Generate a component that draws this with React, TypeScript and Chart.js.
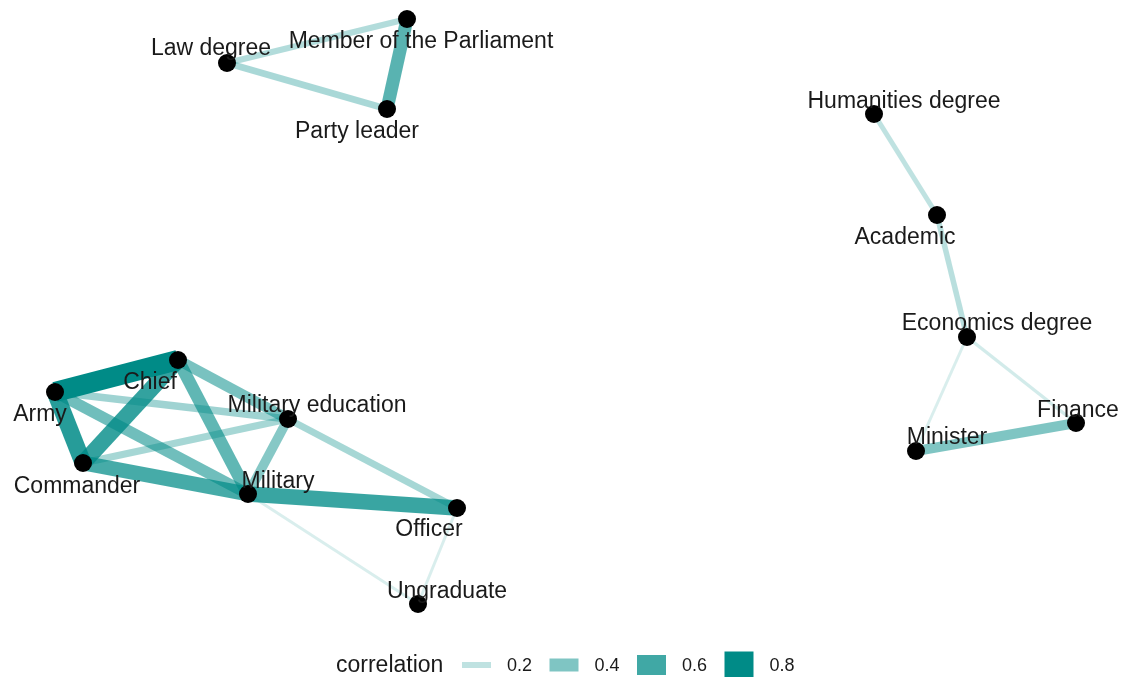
import React, { useEffect, useRef } from "react";
import { Chart, registerables } from "chart.js";
Chart.register(...registerables);

// Node layout (graph layout coordinates)
const nodeNames = [
  "Law degree", "Member of the Parliament", "Party leader",
  "Humanities degree", "Academic", "Economics degree", "Finance", "Minister",
  "Army", "Chief", "Commander", "Military education", "Military", "Officer", "Ungraduate",
];
const nodeX = [227, 407, 387, 874, 937, 967, 1076, 916, 55, 178, 83, 288, 248, 457, 418];
const nodeY = [63, 19, 109, 114, 215, 337, 423, 451, 392, 360, 463, 419, 494, 508, 604];
// Repelled label anchors
const labelX = [211, 421, 357, 904, 905, 997, 1078, 947, 40, 150, 77, 317, 278, 429, 447];
const labelY = [49, 42, 132, 102, 238, 324, 411, 438, 415, 383, 487, 406, 482, 530, 592];

// Edges
const edgeFrom = [
  "Army", "Army", "Chief", "Commander", "Military", "Chief", "Chief", "Army",
  "Army", "Commander", "Military education", "Military education", "Military", "Officer",
  "Law degree", "Law degree", "Member of the Parliament",
  "Humanities degree", "Academic", "Economics degree", "Economics degree", "Minister",
];
const edgeTo = [
  "Chief", "Commander", "Commander", "Military", "Officer", "Military", "Military education", "Military",
  "Military education", "Military education", "Military", "Officer", "Ungraduate", "Ungraduate",
  "Member of the Parliament", "Party leader", "Party leader",
  "Academic", "Economics degree", "Minister", "Finance", "Finance",
];
const edgeCorrelation = [
  0.8, 0.68, 0.64, 0.58, 0.62, 0.5, 0.42, 0.45,
  0.3, 0.28, 0.38, 0.28, 0.12, 0.12,
  0.24, 0.27, 0.52,
  0.2, 0.22, 0.12, 0.14, 0.4,
];
const legendBreaks = [0.2, 0.4, 0.6, 0.8];

const edgeColor = (c: number) => `rgba(0,139,135,${Math.min(1, 1.25 * c)})`;
const edgeWidth = (c: number) => 25 * c;
const FONT = "'Liberation Sans', Arial, sans-serif";

export default function App() {
  const ref = useRef<HTMLCanvasElement | null>(null);
  useEffect(() => {
    if (!ref.current) return;
    const idx = (n: string) => nodeNames.indexOf(n);
    const edgeSets = edgeFrom.map((f, i) => {
      const a = idx(f), b = idx(edgeTo[i]);
      const c = edgeCorrelation[i];
      return {
        type: "line" as const,
        data: [{ x: nodeX[a], y: nodeY[a] }, { x: nodeX[b], y: nodeY[b] }],
        showLine: true,
        borderColor: edgeColor(c),
        backgroundColor: edgeColor(c),
        borderWidth: edgeWidth(c),
        borderCapStyle: "butt" as const,
        pointRadius: 0,
        pointHoverRadius: 0,
        fill: false,
        clip: false as any,
        order: 1,
      };
    });
    const nodeSet = {
      type: "scatter" as const,
      data: nodeNames.map((_, i) => ({ x: nodeX[i], y: nodeY[i] })),
      pointRadius: 9,
      pointHoverRadius: 9,
      backgroundColor: "#000000",
      borderColor: "#000000",
      borderWidth: 0,
      clip: false as any,
      order: 0,
    };
    const labelPlugin = {
      id: "labels",
      afterDatasetsDraw(chart: any) {
        const ctx = chart.ctx;
        const xs = chart.scales.x, ys = chart.scales.y;
        ctx.save();
        ctx.font = `23px ${FONT}`;
        ctx.fillStyle = "#1a1a1a";
        ctx.textAlign = "center";
        ctx.textBaseline = "middle";
        nodeNames.forEach((n, i) => {
          ctx.fillText(n, xs.getPixelForValue(labelX[i]), ys.getPixelForValue(labelY[i]));
        });
        // legend
        const cy = 665;
        ctx.textAlign = "left";
        ctx.fillText("correlation", 336, cy + 1);
        ctx.font = `18px ${FONT}`;
        legendBreaks.forEach((c, i) => {
          const kx = 462 + i * 87.5;
          const h = 35 * c - 1;
          ctx.fillStyle = edgeColor(c);
          ctx.fillRect(kx, cy - h / 2, 29, h);
          ctx.fillStyle = "#1a1a1a";
          ctx.fillText(c.toFixed(1), kx + 45, cy + 1);
        });
        ctx.restore();
      },
    };
    const chart = new Chart(ref.current, {
      type: "scatter",
      data: { datasets: [nodeSet as any, ...(edgeSets as any)] },
      options: {
        animation: false,
        responsive: true,
        maintainAspectRatio: false,
        layout: { padding: 0, autoPadding: false },
        plugins: { legend: { display: false }, tooltip: { enabled: false } },
        events: [],
        scales: {
          x: { type: "linear", min: 0, max: 1122, display: false },
          y: { type: "linear", min: 0, max: 677, reverse: true, display: false },
        },
      },
      plugins: [labelPlugin],
    });
    return () => chart.destroy();
  }, []);
  return (
    <div style={{ position: "fixed", left: 0, top: 0, width: 1122, height: 677, background: "#ffffff" }}>
      <canvas ref={ref} />
    </div>
  );
}
